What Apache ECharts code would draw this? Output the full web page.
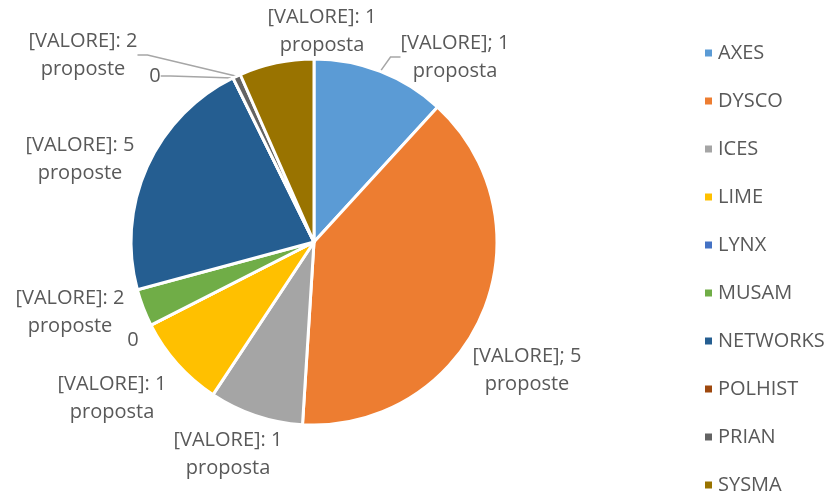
<!DOCTYPE html>
<html>
<head>
<meta charset="utf-8">
<script src="https://cdn.jsdelivr.net/npm/echarts@6/dist/echarts.min.js"></script>
<style>
  html, body { margin: 0; padding: 0; background: #fff; }
  #main { width: 840px; height: 497px; }
</style>
</head>
<body>
<div id="main"></div>
<script>
// gruppi e quote (percentuali stimate dagli angoli)
const categories = ['AXES', 'DYSCO', 'ICES', 'LIME', 'LYNX', 'MUSAM', 'NETWORKS', 'POLHIST', 'PRIAN', 'SYSMA'];
const values = [11.8, 39.2, 8.3, 8.2, 0, 3.3, 21.9, 0, 0.7, 6.6];
const labelTexts = [
  '[VALORE]; 1\nproposta',
  '[VALORE]; 5\nproposte',
  '[VALORE]: 1\nproposta',
  '[VALORE]: 1\nproposta',
  '0',
  '[VALORE]: 2\nproposte',
  '[VALORE]: 5\nproposte',
  '0',
  '[VALORE]: 2\nproposte',
  '[VALORE]: 1\nproposta'
];
const colors = ['#5B9BD5', '#ED7D31', '#A5A5A5', '#FFC000', '#4472C4', '#70AD47', '#255E91', '#9E480E', '#636363', '#997300'];
const withLine = ['AXES', 'POLHIST', 'PRIAN'];

// dove Excel ha messo le etichette
const labelPos = [
  [455, 57], [527, 370], [228, 454], [112, 398], [133, 340],
  [70, 312], [80, 159], [155, 76], [83, 55], [322, 31]
];

let myChart = echarts.init(document.getElementById('main'));

myChart.setOption({
  animation: false,
  color: colors,
  textStyle: { fontFamily: 'Open Sans' },
  legend: {
    orient: 'vertical',
    left: 703,
    top: 43,
    padding: 0,
    itemWidth: 9,
    itemHeight: 9,
    itemGap: 28,
    icon: 'rect',
    data: categories,
    textStyle: { color: '#595959', fontSize: 20, lineHeight: 20 }
  },
  series: [{
    type: 'pie',
    center: [314, 242],
    radius: 183,
    startAngle: 90,
    clockwise: true,
    avoidLabelOverlap: false,
    itemStyle: { borderColor: '#fff', borderWidth: 3 },
    label: {
      position: 'outside',
      color: '#595959',
      fontSize: 20,
      lineHeight: 28,
      align: 'center',
      formatter: p => labelTexts[p.dataIndex]
    },
    labelLine: {
      show: true,
      length: 10,
      length2: 10,
      lineStyle: { color: '#A6A6A6', width: 1.5 }
    },
    labelLayout: function (params) {
      const p = labelPos[params.dataIndex];
      return { x: p[0], y: p[1], align: 'center', verticalAlign: 'middle' };
    },
    data: categories.map((name, i) => ({
      name: name,
      value: values[i],
      labelLine: { show: withLine.indexOf(name) >= 0 }
    }))
  }]
});
</script>
</body>
</html>
